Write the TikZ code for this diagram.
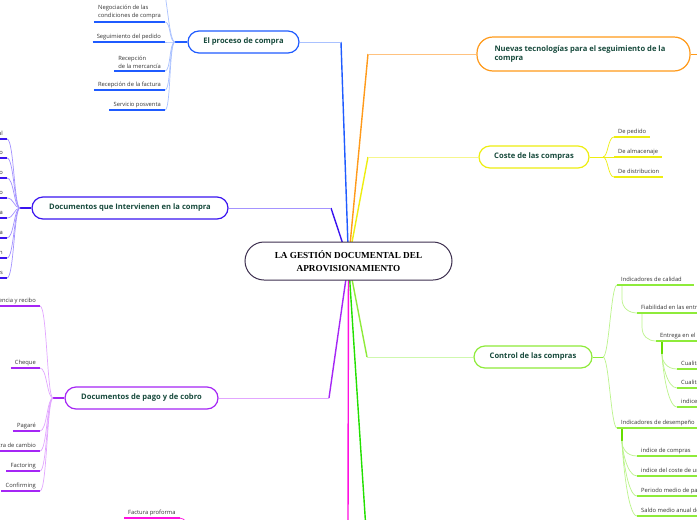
\documentclass[tikz,border=0pt]{standalone}
\usepackage{fontspec}
\setmainfont{Open Sans}
\newfontfamily\serifbold{Liberation Serif}
\usetikzlibrary{calc}
\pgfdeclarelayer{bg}
\pgfsetlayers{bg,main}
\definecolor{topictext}{HTML}{174A3C}
\definecolor{leaftext}{HTML}{333333}
\definecolor{centralc}{HTML}{3D2F4F}
\definecolor{blueA}{HTML}{1F5BFF}
\definecolor{blueB}{HTML}{A9C1FF}
\definecolor{violA}{HTML}{3A14F0}
\definecolor{violB}{HTML}{A493FF}
\definecolor{purpA}{HTML}{A526F5}
\definecolor{purpB}{HTML}{E2A6FF}
\definecolor{oranA}{HTML}{FF9A1A}
\definecolor{oranB}{HTML}{FFC27F}
\definecolor{yellA}{HTML}{EEEE10}
\definecolor{yellB}{HTML}{F6F68C}
\definecolor{lgrnA}{HTML}{8EEB3A}
\definecolor{lgrnB}{HTML}{CFF8AE}
\definecolor{lgrnS}{HTML}{66DD00}
\definecolor{grnA}{HTML}{22E000}
\definecolor{magA}{HTML}{FF10E0}
\newcommand{\topicfnt}{\fontsize{7.6}{9.8}\selectfont\bfseries}
\newcommand{\leaffnt}{\fontsize{5.8}{8}\selectfont}
\begin{document}
\begin{tikzpicture}[x=1pt,y=-1pt,
  topic/.style={draw, fill=white, rounded corners=11pt, line width=1.2pt,
    minimum height=22pt, inner sep=0pt, font=\topicfnt, text=topictext},
  leaf/.style={inner xsep=4pt, inner ysep=2.5pt, font=\leaffnt, text=leaftext,
    text height=4.4pt, text depth=1.3pt},
  leafm/.style={inner xsep=4pt, inner ysep=2.5pt, font=\leaffnt, text=leaftext, align=left},
  uline/.style={line width=1.3pt},
  curve/.style={line width=0.7pt},
  stem/.style={line width=1.4pt},
  maindiag/.style={line width=1.4pt},
  mainhor/.style={line width=0.9pt}]
\clip (0,0) rectangle (697,520);

% ---------- main nodes ----------
\node[draw=centralc, line width=1pt, fill=white, rounded corners=19pt,
  minimum width=207pt, minimum height=38pt, align=center, inner sep=0pt,
  font=\serifbold\bfseries\fontsize{9.2}{12.5}\selectfont] (c) at (348.5,261)
  {LA GESTIÓN DOCUMENTAL DEL\\APROVISIONAMIENTO};
\node[topic, draw=blueA, minimum width=111pt] (pro) at (243.5,42) {El proceso de compra};
\node[topic, draw=oranA, minimum width=213pt, minimum height=34pt, rounded corners=16pt] (nuv) at (583.5,54)
  {\parbox{178pt}{\raggedright Nuevas tecnologías para el seguimiento de la compra}};
\node[topic, draw=yellA, minimum width=110pt] (cos) at (534,157) {Coste de las compras};
\node[topic, draw=lgrnA, minimum width=118pt] (ctl) at (533,357) {Control de las compras};
\node[topic, draw=violA, minimum width=196pt] (doc) at (130,208) {Documentos que Intervienen en la compra};
\node[topic, draw=purpA, minimum width=153pt] (pag) at (141.5,398) {Documentos de pago y de cobro};

% ---------- free ends of main connectors ----------
\coordinate (kpro) at (341,42);
\coordinate (knuv) at (368,54);
\coordinate (kcos) at (368,157);
\coordinate (kctl) at (367,357);
\coordinate (kdoc) at (331,208);
\coordinate (kpag) at (329,398);
\coordinate (kgrn) at (366,530);
\coordinate (kmag) at (348,530);
\coordinate (knuvR) at (705,54);

% ---------- El proceso de compra leaves ----------
\node[leafm, anchor=south east] (p1) at (165,22) {Negociación de las\\condiciones de compra};
\node[leaf, anchor=south east] (p2) at (165,42) {Seguimiento del pedido};
\node[leafm, anchor=south east] (p3) at (165,71) {Recepción\\de la mercancía};
\node[leaf, anchor=south east] (p4) at (165,90) {Recepción de la factura};
\node[leaf, anchor=south east] (p5) at (165,110) {Servicio posventa};
\coordinate (bp) at (175,42);
\coordinate (ptop) at (163,-12);

% ---------- Documentos que intervienen leaves ----------
\foreach \i/\y/\t in {1/139/Solicitud de material, 2/158/Solicitud de presupuesto,
  3/178/Presupuesto, 4/198/Pedido, 5/218/Factura, 6/238/Factura rectificativa,
  7/258/Albarán, 8/278/Otros documentos}{
  \node[leaf, anchor=south east] (d\i) at (7,\y) {\t};
}
\coordinate (bd) at (20,208);

% ---------- Documentos de pago leaves ----------
\node[leaf, anchor=south east] (g1) at (40,306) {Transferencia y recibo};
\node[leaf, anchor=south east] (g2) at (40,368) {Cheque};
\node[leaf, anchor=south east] (g3) at (40,431) {Pagaré};
\node[leaf, anchor=south east] (g4) at (40,451) {Letra de cambio};
\node[leaf, anchor=south east] (g5) at (40,471) {Factoring};
\node[leaf, anchor=south east] (g6) at (40,491) {Confirming};
\coordinate (bg) at (53,398);

% ---------- Coste leaves ----------
\node[leaf, anchor=south west] (c1) at (614,137) {De pedido};
\node[leaf, anchor=south west] (c2) at (614,157) {De almacenaje};
\node[leaf, anchor=south west] (c3) at (614,177) {De distribucion};
\coordinate (bc) at (603,157);

% ---------- Control leaves ----------
\node[leaf, anchor=south west] (q1) at (617,285) {Indicadores de calidad\hspace*{8pt}};
\node[leaf, anchor=south west] (q2) at (617,428) {Indicadores de desempeño\hspace*{8pt}};
\node[leaf, anchor=south west] (r1) at (637,313) {Fiabilidad en las entregas};
\node[leaf, anchor=south west] (r2) at (656,341) {Entrega en el plazo};
\node[leaf, anchor=south west] (s1) at (677,369) {Cualitativa};
\node[leaf, anchor=south west] (s2) at (677,388) {Cualitativa};
\node[leaf, anchor=south west] (s3) at (677,407) {indice de calidad};
\node[leaf, anchor=south west] (t1) at (637,456) {indice de compras\hspace*{20pt}};
\node[leaf, anchor=south west] (t2) at (637,476) {indice del coste de unidades};
\node[leaf, anchor=south west] (t3) at (637,496) {Periodo medio de pago};
\node[leaf, anchor=south west] (t4) at (637,516) {Saldo medio anual de proveedores};
\coordinate (bct) at (603,357);
\coordinate (rs) at ($(r2.south west)+(6,13)$);
\coordinate (ts) at ($(q2.south west)+(5,13)$);

% ---------- Factura proforma ----------
\node[leaf, anchor=south west] (fp) at (124,518) {Factura proforma};
\coordinate (fpe) at (192,530);

\begin{pgfonlayer}{bg}
  \fill[white] (0,0) rectangle (697,520);
  % main connectors
  \draw[maindiag, blueA] (c.center) -- (kpro);
  \draw[mainhor, blueB] (kpro) -- (pro.east);
  \draw[maindiag, oranA] (c.center) -- (knuv);
  \draw[mainhor, oranB] (knuv) -- (nuv.west);
  \draw[mainhor, oranA] (nuv.east) -- (knuvR);
  \draw[maindiag, yellA] (c.center) -- (kcos);
  \draw[mainhor, yellB] (kcos) -- (cos.west);
  \draw[maindiag, lgrnA] (c.center) -- (kctl);
  \draw[mainhor, lgrnB] (kctl) -- (ctl.west);
  \draw[maindiag, violA] (c.center) -- (kdoc);
  \draw[mainhor, violB] (kdoc) -- (doc.east);
  \draw[maindiag, purpA] (c.center) -- (kpag);
  \draw[mainhor, purpB] (kpag) -- (pag.east);
  \draw[maindiag, grnA] (c.center) -- (kgrn);
  \draw[maindiag, magA] (c.center) -- (kmag);

  % El proceso de compra
  \draw[stem, blueA] (pro.west) -- (bp);
  \foreach \n in {p1,p2,p3,p4,p5}{
    \draw[curve, blueB] (bp) .. controls +(-6,0) and +(6,0) .. (\n.south east);
    \draw[uline, blueA] (\n.south west) -- (\n.south east);
  }
  \draw[curve, blueB] (bp) .. controls +(-6,0) and +(4,6) .. (ptop);

  % Documentos que intervienen
  \draw[stem, violA] (doc.west) -- (bd);
  \foreach \n in {d1,d2,d3,d4,d5,d6,d7,d8}{
    \draw[curve, violB] (bd) .. controls +(-6,0) and +(7,0) .. (\n.south east);
    \draw[uline, violA] (\n.south west) -- (\n.south east);
  }

  % Documentos de pago
  \draw[stem, purpA] (pag.west) -- (bg);
  \foreach \n in {g1,g2,g3,g4,g5,g6}{
    \draw[curve, purpB] (bg) .. controls +(-6,0) and +(7,0) .. (\n.south east);
    \draw[uline, purpA] (\n.south west) -- (\n.south east);
  }

  % Coste
  \draw[curve, yellA] (cos.east) -- (bc);
  \foreach \n in {c1,c2,c3}{
    \draw[curve, yellA] (bc) .. controls +(5,0) and +(-6,0) .. (\n.south west);
    \draw[uline, yellA] (\n.south west) -- (\n.south east);
  }

  % Control
  \draw[curve, lgrnA] (ctl.east) -- (bct);
  \foreach \n in {q1,q2}{
    \draw[curve, lgrnB!70!lgrnA] (bct) .. controls +(6,0) and +(-6,0) .. (\n.south west);
  }
  \draw[curve, lgrnB!70!lgrnA] ($(q1.south west)+(5,0)$) -- ++(0,14)
    .. controls +(0,9) and +(-8,0) .. (r1.south west);
  \draw[curve, lgrnB!70!lgrnA] ($(r1.south west)+(5,0)$) -- ++(0,14)
    .. controls +(0,9) and +(-8,0) .. (r2.south west);
  \draw[stem, lgrnS] ($(r2.south west)+(6,0)$) -- (rs);
  \foreach \n in {s1,s2,s3}{
    \draw[curve, lgrnB!70!lgrnA] (rs) .. controls +(0,8) and +(-10,0) .. (\n.south west);
  }
  \draw[stem, lgrnS] ($(q2.south west)+(5,0)$) -- (ts);
  \foreach \n in {t1,t2,t3,t4}{
    \draw[curve, lgrnB!70!lgrnA] (ts) .. controls +(0,8) and +(-10,0) .. (\n.south west);
  }
  \foreach \n in {q1,q2,r1,r2,s1,s2,s3,t1,t2,t3,t4}{
    \draw[uline, lgrnA] (\n.south west) -- (\n.south east);
  }

  % Factura proforma
  \draw[uline, magA] (fp.south west) -- (fp.south east);
  \draw[curve, magA] (fp.south east) .. controls +(4,0) and +(-2,-6) .. (fpe);
\end{pgfonlayer}
\end{tikzpicture}
\end{document}
